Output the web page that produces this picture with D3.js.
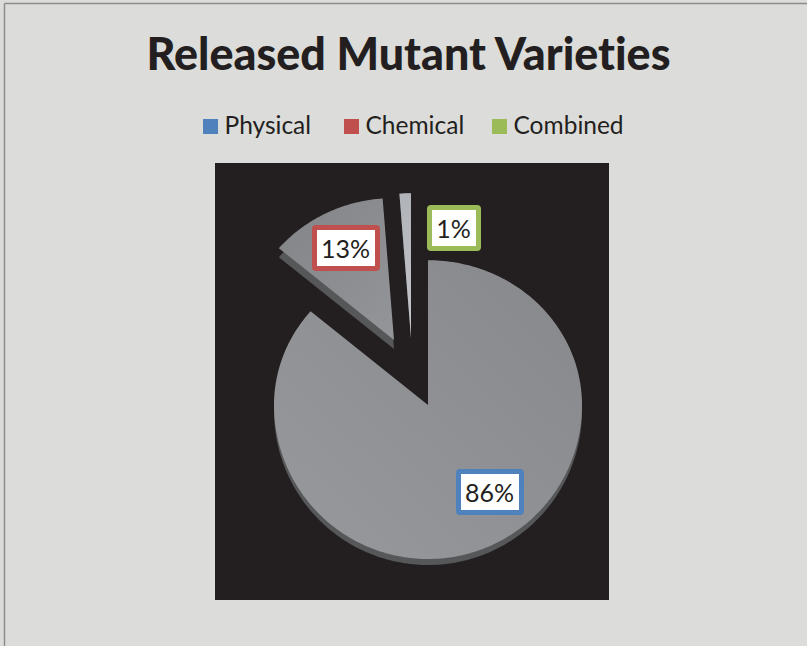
<!DOCTYPE html>
<html lang="en">
<head>
<meta charset="UTF-8">
<title>Released Mutant Varieties</title>
<script src="https://cdn.jsdelivr.net/npm/d3@7/dist/d3.min.js"></script>
<style>
  html, body { margin: 0; padding: 0; background: #dcdcda; }
  svg { display: block; }
  text { font-family: Lato, "Open Sans", sans-serif; fill: #231f20; font-variant-ligatures: none; }
</style>
</head>
<body>
<svg width="807" height="646"></svg>
<script>
// values (slice angles), labels round to 86 / 13 / 1
var categories = ["Physical", "Chemical", "Combined"];
var shares = [86.2, 12.6, 1.2];
var legendColors = ["#4f81bd", "#c0504d", "#9bbb59"];

// layout only
var center = {x: 428, y: 405};
var radii = [154, 151, 154];
var topSquash = 0.94;                                  // far half of the tilted pie looks shorter
var explode = [[0, 0], [-34, -65], [-17, -67]];
var wallDepth = [6, 9, 0];
var labelAt = [[490, 492], [346, 248], [454, 228]];
var legendX = [203, 344, 492];

var svg = d3.select("svg");
var defs = svg.append("defs");

function grad(id, x1, y1, x2, y2, stops) {
  var g = defs.append("linearGradient").attr("id", id)
    .attr("x1", x1).attr("y1", y1).attr("x2", x2).attr("y2", y2);
  stops.forEach(function(s) {
    g.append("stop").attr("offset", s[0]).attr("stop-color", s[1]);
  });
}
grad("fill0", 0, 1, 1, 0, [[0, "#98999c"], [1, "#87888c"]]);
grad("fill1", 1, 1, 0, 0, [[0, "#949598"], [1, "#838488"]]);
grad("fill2", 0, 0, 0, 1, [[0, "#b0b3b8"], [1, "#c4c6ca"]]);

// page frame, only top and left are visible in the picture
svg.append("rect").attr("width", 807).attr("height", 646).attr("fill", "#dcdcda");
svg.append("line").attr("x1", 4.5).attr("y1", 3.5).attr("x2", 807).attr("y2", 3.5)
  .attr("stroke", "#8c8c8c").attr("stroke-width", 1.5);
svg.append("line").attr("x1", 4.5).attr("y1", 3.5).attr("x2", 4.5).attr("y2", 646)
  .attr("stroke", "#8c8c8c").attr("stroke-width", 1.5);

svg.append("text")
  .attr("x", 408.5).attr("y", 69.5)
  .attr("text-anchor", "middle")
  .attr("font-size", 44.8).attr("font-weight", 900)
  .text("Released Mutant Varieties");

// legend
var legend = svg.append("g").selectAll("g")
  .data(categories)
  .enter()
  .append("g")
  .attr("transform", function(d, i) { return "translate(" + legendX[i] + ",119)"; });
legend.append("rect")
  .attr("width", 15).attr("height", 15)
  .attr("fill", function(d, i) { return legendColors[i]; });
legend.append("text")
  .attr("x", 21.5).attr("y", 15)
  .attr("font-size", 24.5)
  .text(function(d) { return d; });

// black plot panel
svg.append("rect")
  .attr("x", 215).attr("y", 163).attr("width", 394).attr("height", 437)
  .attr("fill", "#231f20");

var pie = d3.pie().sort(null)(shares);

var line = d3.line();
function slicePoints(d) {
  var r = radii[d.index];
  var steps = Math.max(2, Math.ceil((d.endAngle - d.startAngle) / 0.02));
  var pts = [[0, 0]];
  d3.range(steps + 1).forEach(function(k) {
    var a = d.startAngle + (d.endAngle - d.startAngle) * k / steps;
    var dy = -Math.cos(a) * r;
    pts.push([Math.sin(a) * r, dy < 0 ? dy * topSquash : dy]);
  });
  return pts;
}

var slices = svg.append("g").selectAll("g")
  .data(pie)
  .enter()
  .append("g")
  .attr("transform", function(d, i) {
    return "translate(" + (center.x + explode[i][0]) + "," + (center.y + explode[i][1]) + ")";
  });

// side wall is the same outline pushed down
slices.append("path")
  .attr("d", function(d) { return line(slicePoints(d)) + "Z"; })
  .attr("transform", function(d, i) { return "translate(0," + wallDepth[i] + ")"; })
  .attr("fill", "#565759");
slices.append("path")
  .attr("d", function(d) { return line(slicePoints(d)) + "Z"; })
  .attr("fill", function(d, i) { return "url(#fill" + i + ")"; });

// data labels
var labels = svg.append("g").selectAll("g")
  .data(pie)
  .enter()
  .append("g")
  .attr("transform", function(d, i) { return "translate(" + labelAt[i][0] + "," + labelAt[i][1] + ")"; });
labels.append("rect")
  .attr("x", function(d) { return -(d.index === 2 ? 24.5 : 31.5); })
  .attr("y", -20.5)
  .attr("width", function(d) { return d.index === 2 ? 49 : 63; })
  .attr("height", 41)
  .attr("rx", 1.5)
  .attr("fill", "#fff")
  .attr("stroke-width", 5)
  .attr("stroke", function(d, i) { return legendColors[i]; });
labels.append("text")
  .attr("text-anchor", "middle")
  .attr("x", -0.5)
  .attr("y", 9.5)
  .attr("font-size", 25)
  .text(function(d) { return Math.round(d.value) + "%"; });
</script>
</body>
</html>
